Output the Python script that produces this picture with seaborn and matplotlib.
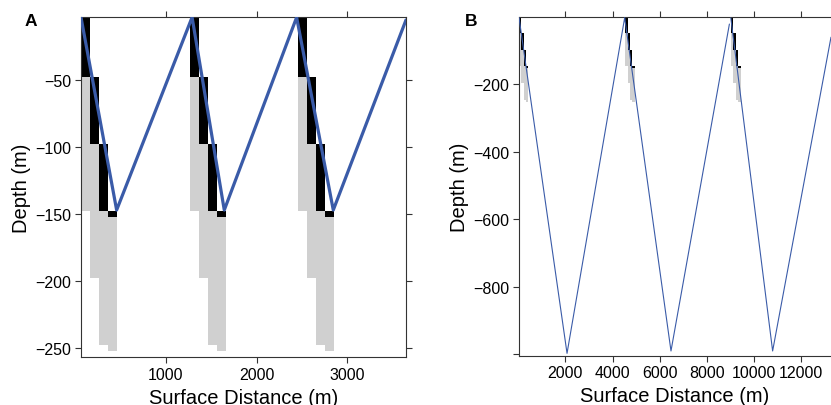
import numpy as np
import pandas as pd
import matplotlib
matplotlib.use("Agg")
import matplotlib.pyplot as plt
import seaborn as sns

# depth bins of the four sampling columns (m)
bin_top = [0, -47.5, -97.5, -147.5]
black_bottom = [-47.5, -97.5, -147.5, -152.5]
gray_bottom = [-147.5, -197.5, -247.5, -252.5]
col_offset = [0, 100, 200, 300]
col_width = 100

# panel A : short dives
a_starts = [63, 1265, 2453]
a_path_x = [63, 456, 1288, 1643, 2441, 2845, 3647]
a_path_y = [-3, -147, -3, -147, -3, -147, -5]
a_path_seg = [0, 0, 0, 0, 0, 0, 0]

# panel B : deep dives
b_starts = [30, 4538, 9034]
b_path_x = [30, 2069, 4517, 6482, 8962, 9022, 10797, 13275]
b_path_y = [-2, -998, -3, -991, -22, -4, -991, -61]
b_path_seg = [0, 0, 0, 0, 0, 1, 1, 1]

sns.set_theme(style="ticks")
plt.rcParams['font.family'] = ['Liberation Sans', 'DejaVu Sans']
plt.rcParams['text.color'] = 'black'
plt.rcParams['axes.labelcolor'] = 'black'
plt.rcParams['xtick.labelcolor'] = 'black'
plt.rcParams['ytick.labelcolor'] = 'black'

fig = plt.figure(figsize=(8.31, 4.06), dpi=100)
ax_a = fig.add_axes([81 / 831, 47.7 / 406, 325 / 831, 340 / 406])
ax_b = fig.add_axes([519 / 831, 49.3 / 406, 312 / 831, 338.4 / 406])

blue = '#3a5ba8'


def draw_panel(ax, starts, px, py, seg, lw):
    for s in starts:
        xs = [s + o for o in col_offset]
        ax.bar(xs, np.subtract(gray_bottom, black_bottom), width=col_width,
               bottom=black_bottom, align='edge', color='#d0d0d0', lw=0, zorder=1)
        ax.bar(xs, np.subtract(black_bottom, bin_top), width=col_width,
               bottom=bin_top, align='edge', color='black', lw=0, zorder=2)
    df = pd.DataFrame({'x': px, 'y': py, 'seg': seg})
    sns.lineplot(data=df, x='x', y='y', units='seg', estimator=None, sort=False,
                 color=blue, lw=lw, ax=ax, zorder=3)


draw_panel(ax_a, a_starts, a_path_x, a_path_y, a_path_seg, 2.3)
draw_panel(ax_b, b_starts, b_path_x, b_path_y, b_path_seg, 0.8)

ax_a.set_xlim(63, 3647)
ax_a.set_ylim(-257, -3)
ax_a.set_xticks([1000, 2000, 3000])
ax_a.set_yticks([-50, -100, -150, -200, -250])
ax_a.tick_params(direction='out', length=4, width=0.8, top=True, right=True,
                 labeltop=False, labelright=False, labelsize=11.5, pad=3)

ax_b.set_xlim(30, 13275)
ax_b.set_ylim(-1005, -2)
ax_b.set_xticks([2000, 4000, 6000, 8000, 10000, 12000])
ax_b.set_yticks([-200, -400, -600, -800, -1000])
ax_b.set_yticklabels(['\u2212200', '\u2212400', '\u2212600', '\u2212800', ''])
ax_b.tick_params(direction='out', length=4, width=0.8, top=True, right=False,
                 labeltop=False, labelright=False, labelsize=11.5, pad=3)
ax_b.spines['right'].set_visible(False)

for ax in (ax_a, ax_b):
    for sp in ax.spines.values():
        sp.set_linewidth(0.8)
        sp.set_color('#333333')
    ax.tick_params(color='#333333')
    ax.set_xlabel('Surface Distance (m)', fontsize=14.5, labelpad=4)
    ax.set_ylabel('Depth (m)', fontsize=14.5, labelpad=3)

fig.text(25 / 831, 1 - 14 / 406, 'A', fontsize=12.5, fontweight='bold', va='top')
fig.text(465 / 831, 1 - 14 / 406, 'B', fontsize=12.5, fontweight='bold', va='top')

fig.savefig('out.png', dpi=100)
